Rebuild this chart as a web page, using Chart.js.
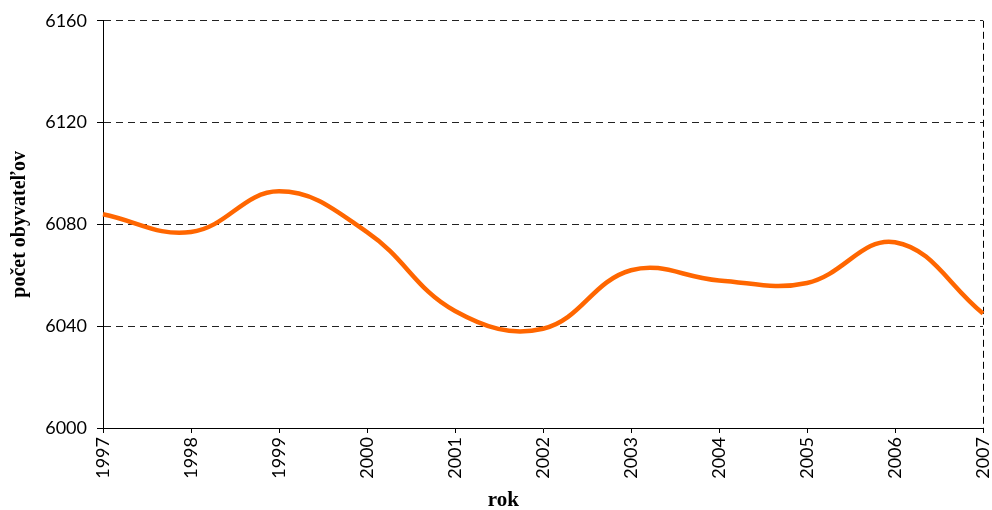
<!DOCTYPE html>
<html>
<head>
<meta charset="utf-8">
<script src="https://cdn.jsdelivr.net/npm/chart.js@4"></script>
<style>
  html, body { margin: 0; padding: 0; background: #fff; }
  canvas { display: block; }
</style>
</head>
<body>
<canvas id="chart" width="992" height="510"></canvas>
<script>
const years = ['1997','1998','1999','2000','2001','2002','2003','2004','2005','2006','2007'];
const population = [6084, 6077, 6093, 6077, 6046, 6039, 6062, 6058, 6057, 6073, 6045];
const yMin = 6000, yMax = 6160, yStep = 40;
const xTitle = 'rok';
const yTitle = 'počet obyvateľov';

const tickFont = { family: "Lato, 'Open Sans', sans-serif", size: 18 };
const serif = "'Liberation Serif', serif";

// Excel puts the x axis title a bit left of centre, so draw it by hand
const xTitlePlugin = {
    id: 'xTitle',
    afterDraw(chart) {
        const { ctx, scales } = chart;
        const x = scales.x.getPixelForValue(4.55);
        ctx.save();
        ctx.font = 'bold 21px ' + serif;
        ctx.fillStyle = '#000';
        ctx.textAlign = 'center';
        ctx.textBaseline = 'middle';
        ctx.fillText(xTitle, x, 501);
        ctx.restore();
    }
};

new Chart(document.getElementById('chart'), {
    type: 'line',
    data: {
        labels: years,
        datasets: [{
            label: yTitle,
            data: population,
            borderColor: '#ff6600',
            borderWidth: 4.5,
            pointRadius: 0,
            tension: 0.4,
            fill: false
        }]
    },
    options: {
        responsive: false,
        animation: false,
        layout: { padding: { top: 10, right: 9, left: 0, bottom: 0 } },
        plugins: { legend: { display: false }, tooltip: { enabled: false } },
        scales: {
            x: {
                offset: false,
                afterFit: s => { s.height = 82; s.paddingRight = 0; s.paddingLeft = 0; },
                ticks: { color: '#000', font: tickFont, minRotation: 90, maxRotation: 90, padding: 4 },
                grid: {
                    color: c => c.index === years.length - 1 ? '#000' : 'rgba(0,0,0,0)',
                    tickColor: '#000', tickLength: 5, lineWidth: 1
                },
                border: { display: true, color: '#000', width: 1, dash: [7, 4] }
            },
            y: {
                min: yMin, max: yMax,
                afterFit: s => { s.width = 103; },
                ticks: { stepSize: yStep, color: '#000', font: tickFont, padding: 10, callback: v => String(v) },
                grid: { color: '#222', tickColor: '#000', tickLength: 6, lineWidth: 1 },
                border: { display: true, color: '#000', width: 1, dash: [7, 5] },
                title: { display: true, text: yTitle, color: '#000', font: { family: serif, size: 20, weight: 'bold' }, padding: { top: 8, bottom: 0 } }
            }
        }
    },
    plugins: [xTitlePlugin]
});
</script>
</body>
</html>
